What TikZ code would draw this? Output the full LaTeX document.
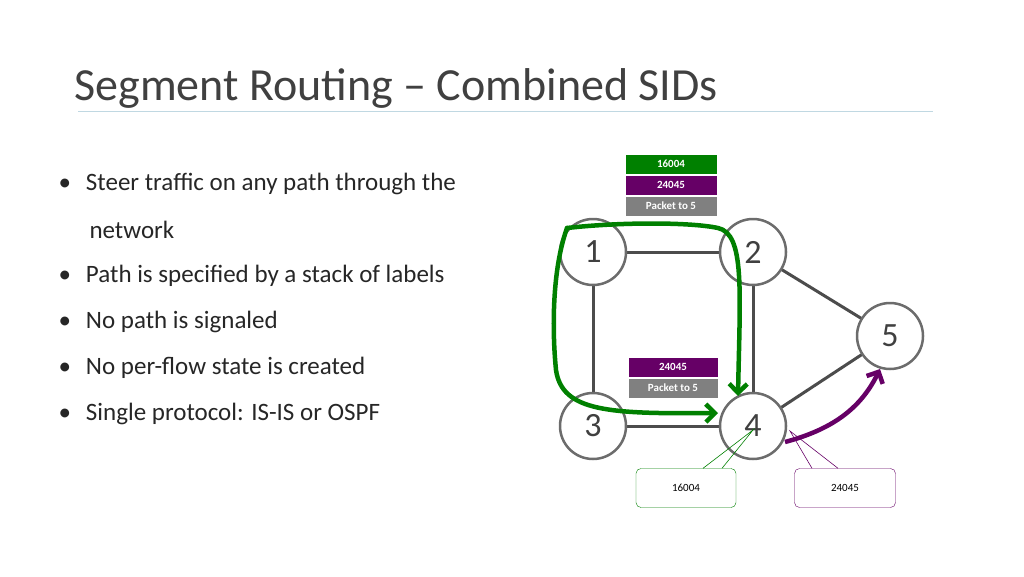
\documentclass[tikz,border=0pt]{standalone}
\usepackage{fontspec}
\setmainfont{Carlito}
\usetikzlibrary{arrows.meta,positioning}
\definecolor{sgreen}{RGB}{0,128,0}
\definecolor{spurple}{RGB}{102,0,102}
\definecolor{sgray}{RGB}{128,128,128}
\tikzset{
 rt/.style={circle,draw=gray!85!black,line width=2.5pt,fill=white,minimum size=66pt,inner sep=0pt,font=\fontsize{34}{34}\selectfont,text=black!75},
 lk/.style={line width=3pt,draw=black!70},
 lab/.style={minimum width=92pt,minimum height=20.5pt,inner sep=0pt,text=white,font=\bfseries\fontsize{11}{11}\selectfont,draw=white,line width=0.5pt},
 bul/.style={anchor=west,font=\fontsize{25}{25}\selectfont,text=black!85},
 gp/.style={draw=sgreen,line width=4.5pt,line cap=round,line join=round},
 tip/.style={-{Straight Barb[length=9pt,width=18pt,line width=4.5pt]}}
}
\begin{document}
\begin{tikzpicture}[x=1pt,y=-1pt]
\useasboundingbox (0,0) rectangle (1024,576);
\node[anchor=base west,font=\fontsize{46}{46}\selectfont,text=black!75] (title) at (71,100) {Segment Routing – Combined SIDs};
\draw[line width=0.6pt,draw=gray!60!cyan!40] (78,111) coordinate (l1) -- (933,111) coordinate (l2);
\node[bul] (b1) at (55,184) {•\hspace{15pt}Steer traffic on any path through the};
\node[bul] (b1b) at (86,230) {network};
\node[bul] (b2) at (55,276) {•\hspace{15pt}Path is specified by a stack of labels};
\node[bul] (b3) at (55,322) {•\hspace{15pt}No path is signaled};
\node[bul] (b4) at (55,368) {•\hspace{15pt}No per-flow state is created};
\node[bul] (b5) at (55,414) {•\hspace{15pt}Single protocol: IS-IS or OSPF};
\coordinate (c1) at (593,252); \coordinate (c2) at (753,252);
\coordinate (c3) at (593,426); \coordinate (c4) at (753,426); \coordinate (c5) at (890,336);
\draw[lk] (c1) -- (c2); \draw[lk] (c1) -- (c3); \draw[lk] (c2) -- (c4);
\draw[lk] (c3) -- (c4); \draw[lk] (c2) -- (c5); \draw[lk] (c4) -- (c5);
\node[rt] (n1) at (c1) {1}; \node[rt] (n2) at (c2) {2};
\node[rt] (n3) at (c3) {3}; \node[rt] (n4) at (c4) {4}; \node[rt] (n5) at (c5) {5};
% label stacks
\node[lab,fill=sgreen] (s1) at (671,164) {16004};
\node[lab,fill=spurple,below=0pt of s1] (s2) {24045};
\node[lab,fill=sgray,below=0pt of s2] (s3) {Packet to 5};
\node[lab,fill=spurple,minimum width=90pt] (t1) at (673,367) {24045};
\node[lab,fill=sgray,minimum width=90pt,below=0pt of t1] (t2) {Packet to 5};
% green paths
\coordinate (gs) at (567,228);
\draw[gp,tip] (gs) .. controls (620,222) and (690,222) .. (718,228) .. controls (745,234) and (740,290) .. (738,396) coordinate (ge1);
\draw[gp,tip] (gs) .. controls (552,270) and (552,330) .. (556,370) .. controls (562,412) and (610,414) .. (718,413) coordinate (ge2);
% purple arc
\draw[draw=spurple,line width=4.5pt,-{Straight Barb[length=9pt,width=18pt,line width=4.5pt]}] (785,442) .. controls (830,430) and (860,410) .. (880,369) coordinate (pe);
% callouts
\node[draw=sgreen,rounded corners=5pt,minimum width=100pt,minimum height=39pt,fill=white,font=\fontsize{11}{11}\selectfont] (k1) at (686,488) {16004};
\node[draw=spurple,rounded corners=5pt,minimum width=101pt,minimum height=39pt,fill=white,font=\fontsize{11}{11}\selectfont] (k2) at (845,488) {24045};
\coordinate (p1) at (753,430); \coordinate (p2) at (790,431);
\draw[sgreen,line width=0.6pt] ([xshift=17pt]k1.north) -- (p1) -- ([xshift=36pt]k1.north);
\draw[spurple,line width=0.6pt] ([xshift=-33pt]k2.north) -- (p2) -- ([xshift=-7pt]k2.north);
\end{tikzpicture}
\end{document}
